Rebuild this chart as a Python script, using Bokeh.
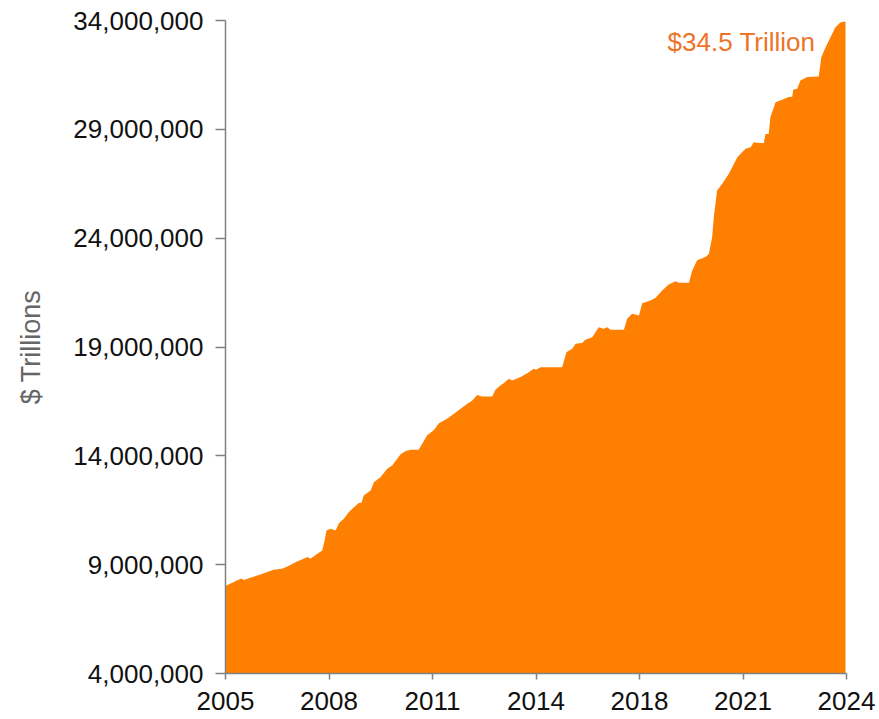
from bokeh.plotting import figure
from bokeh.models import FixedTicker, NumeralTickFormatter, Label, Range1d
from bokeh.embed import file_html
from bokeh.resources import INLINE

# Decimal years and debt in trillions of dollars
YEARS = [2005.00, 2005.36, 2005.49, 2005.56, 2005.76, 2006.07, 2006.47, 2006.73, 2006.89,
         2007.19, 2007.52, 2007.60, 2007.81, 2007.96, 2008.03, 2008.09, 2008.21, 2008.37,
         2008.47, 2008.62, 2008.77, 2008.93, 2009.08, 2009.16, 2009.23, 2009.44, 2009.54,
         2009.74, 2009.95, 2010.10, 2010.35, 2010.51, 2010.66, 2010.91, 2011.02, 2011.17,
         2011.37, 2011.53, 2011.78, 2011.99, 2012.19, 2012.40, 2012.55, 2012.70, 2012.85,
         2013.16, 2013.26, 2013.41, 2013.51, 2013.67, 2013.77, 2014.03, 2014.28, 2014.43,
         2014.50, 2014.64, 2015.30, 2015.43, 2015.61, 2015.71, 2015.91, 2016.01, 2016.22,
         2016.42, 2016.57, 2016.68, 2016.78, 2017.19, 2017.29, 2017.44, 2017.65, 2017.75,
         2018.00, 2018.16, 2018.36, 2018.56, 2018.77, 2018.87, 2019.18, 2019.28, 2019.43,
         2019.69, 2019.79, 2019.89, 2019.94, 2020.04, 2020.20, 2020.40, 2020.66, 2020.91,
         2021.07, 2021.16, 2021.32, 2021.47, 2021.52, 2021.62, 2021.67, 2021.83, 2022.03,
         2022.23, 2022.34, 2022.37, 2022.49, 2022.59, 2022.80, 2023.15, 2023.23, 2023.36,
         2023.51, 2023.66, 2023.82, 2023.97]
DEBT_TRILLIONS = [8.02, 8.28, 8.36, 8.30, 8.40, 8.55, 8.77, 8.81, 8.92,
                  9.15, 9.35, 9.27, 9.50, 9.65, 10.10, 10.57, 10.65, 10.57,
                  10.90, 11.11, 11.41, 11.64, 11.83, 11.85, 12.18, 12.41, 12.79,
                  13.02, 13.41, 13.56, 14.06, 14.22, 14.28, 14.28, 14.55, 14.94,
                  15.17, 15.50, 15.70, 15.93, 16.16, 16.39, 16.54, 16.80, 16.73,
                  16.73, 17.04, 17.23, 17.34, 17.54, 17.46, 17.62, 17.84, 18.00,
                  17.96, 18.07, 18.07, 18.76, 18.92, 19.15, 19.18, 19.33, 19.45,
                  19.91, 19.84, 19.91, 19.79, 19.79, 20.30, 20.53, 20.45, 21.01,
                  21.14, 21.26, 21.60, 21.87, 22.02, 21.95, 21.95, 22.52, 22.98,
                  23.13, 23.28, 24.05, 24.96, 26.19, 26.50, 26.96, 27.72, 28.11,
                  28.18, 28.41, 28.37, 28.37, 28.79, 28.79, 29.56, 30.25, 30.36,
                  30.48, 30.50, 30.82, 30.86, 31.24, 31.40, 31.43, 32.31, 32.77,
                  33.23, 33.69, 33.92, 33.95]

START_YEAR = 2005
END_YEAR = 2024
X_TICK_MONTHS = [0, 38, 76, 114, 152, 190, 228]
X_TICK_LABELS = ["2005", "2008", "2011", "2014", "2018", "2021", "2024"]
Y_TICKS = [4000000, 9000000, 14000000, 19000000, 24000000, 29000000, 34000000]
ANNOTATION = "$34.5 Trillion"

x = [(yr - START_YEAR) * 12 for yr in YEARS]          # months since Jan 2005
y = [v * 1_000_000 for v in DEBT_TRILLIONS]             # axis units ($ millions)

FONT = "Liberation Sans"
ORANGE = "#FF8000"

p = figure(width=879, height=719, output_backend="svg", toolbar_location=None,
           x_range=Range1d(0, (END_YEAR - START_YEAR) * 12),
           y_range=Range1d(Y_TICKS[0], Y_TICKS[-1]),
           min_border_left=225, min_border_right=33, min_border_top=20,
           min_border_bottom=46)

p.varea(x=x, y1=Y_TICKS[0], y2=y, fill_color=ORANGE, fill_alpha=1.0)

p.xgrid.visible = False
p.ygrid.visible = False
p.outline_line_color = None
p.background_fill_color = "white"
p.border_fill_color = "white"

p.xaxis.ticker = FixedTicker(ticks=X_TICK_MONTHS)
p.xaxis.major_label_overrides = {t: l for t, l in zip(X_TICK_MONTHS, X_TICK_LABELS)}
p.yaxis.ticker = FixedTicker(ticks=Y_TICKS)
p.yaxis.formatter = NumeralTickFormatter(format="0,0")

for ax in (p.xaxis[0], p.yaxis[0]):
    ax.axis_line_color = "#808080"
    ax.axis_line_width = 1.5
    ax.major_tick_line_color = "#808080"
    ax.major_tick_line_width = 1.5
    ax.minor_tick_line_color = None
    ax.major_tick_in = 0
    ax.major_label_text_font = FONT
    ax.major_label_text_font_size = "26px"
    ax.major_label_text_color = "#111111"

p.xaxis.major_tick_out = 6
p.xaxis.major_label_standoff = 12
p.yaxis.major_tick_out = 10
p.yaxis.major_label_standoff = 12

p.yaxis.axis_label = "$ Trillions"
p.yaxis.axis_label_text_font = FONT
p.yaxis.axis_label_text_font_style = "normal"
p.yaxis.axis_label_text_font_size = "27px"
p.yaxis.axis_label_text_color = "#666666"
p.yaxis.axis_label_standoff = 24

lab = Label(x=(2023.05 - START_YEAR) * 12, y=33.0e6, text=ANNOTATION,
            text_align="right", text_baseline="middle",
            text_font=FONT, text_font_size="26px", text_color="#EE7326")
p.add_layout(lab)

open("out.html", "w").write(file_html(p, INLINE))
